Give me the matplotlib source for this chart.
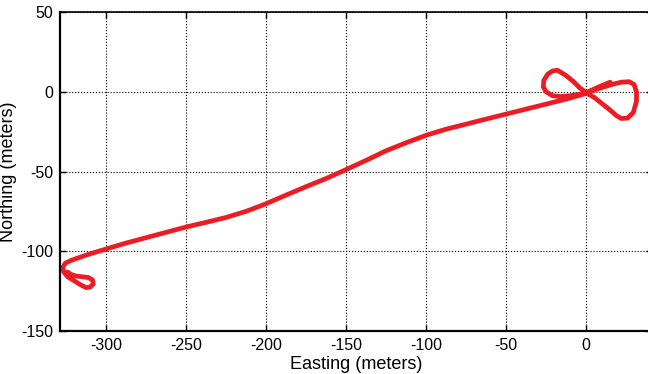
import matplotlib
matplotlib.use("Agg")
import matplotlib.pyplot as plt
import numpy as np

# trajectory (meters), in three pieces:
# figure-8 near the origin, the long straight run, the small loop at the far west end
fig8_x = [15, 9, 4, 0, -4, -8, -13, -18, -21, -24, -26.5, -26.7, -25, -21, -16, -10,
          -4, 0, 5, 10, 15, 19, 22, 26, 29.5, 31.5, 31.5, 30, 27, 22, 17, 11, 5, 0, -5]
fig8_y = [6, 3.5, 1.2, -0.5, 2.5, 6.5, 10.5, 13.5, 13, 11, 7, 3, 0, -2.5, -3, -2.5,
          -1.5, -0.8, -3.5, -7.5, -11.5, -15, -16.8, -16.5, -13, -6, 0, 4.5, 6.3, 6,
          4.8, 3, 1, -1, -2.5]

track_x = [-12, -20, -30, -40, -50, -62, -75, -88, -100, -112, -125, -137, -150, -162,
           -175, -188, -200, -212, -225, -238, -250, -262, -275, -288, -300, -310,
           -317, -322]
track_y = [-4.5, -6.5, -9, -11.5, -14, -17, -20.3, -23.6, -27.3, -31.8, -37, -42.8,
           -48.8, -54.2, -59.5, -65, -70.2, -74.8, -78.8, -82, -84.8, -88, -91.5,
           -95, -98.6, -101.6, -104, -105.8]

loop_x = [-325.5, -327, -326.5, -324, -320, -316, -312.5, -310, -308, -308.5, -311,
          -315, -319, -322, -324]
loop_y = [-107.5, -110, -113, -116, -118.5, -121, -122.8, -122.5, -120.5, -118,
          -116.5, -116, -115.5, -114.5, -113]

x_ticks = [-300, -250, -200, -150, -100, -50, 0]
y_ticks = [-150, -100, -50, 0, 50]

easting = np.concatenate([fig8_x, track_x, loop_x])
northing = np.concatenate([fig8_y, track_y, loop_y])

plt.rcParams["font.family"] = ["Liberation Sans", "DejaVu Sans"]
plt.rcParams["axes.unicode_minus"] = False

fig = plt.figure(figsize=(6.48, 3.74), dpi=100)
ax = fig.add_axes([60 / 648, 43 / 374, 592 / 648, 319 / 374])

ax.plot(easting, northing, color="#ec1c24", linewidth=3.4,
        solid_capstyle="round", solid_joinstyle="round")

ax.set_xlim(-328.8, 41.2)
ax.set_ylim(-150, 50)
ax.set_xticks(x_ticks)
ax.set_yticks(y_ticks)
ax.grid(True, color="black", linestyle=":", linewidth=0.8)
ax.tick_params(direction="in", length=4, width=1, labelsize=11.5, pad=5,
               top=True, right=True)

for side in ["left", "bottom"]:
    ax.spines[side].set_linewidth(1.6)
ax.spines["top"].set_linewidth(1.2)
ax.spines["right"].set_visible(False)

ax.set_xlabel("Easting (meters)", fontsize=13, labelpad=2)
ax.set_ylabel("Northing (meters)", fontsize=13, labelpad=3)

fig.savefig("out.png", dpi=100)
